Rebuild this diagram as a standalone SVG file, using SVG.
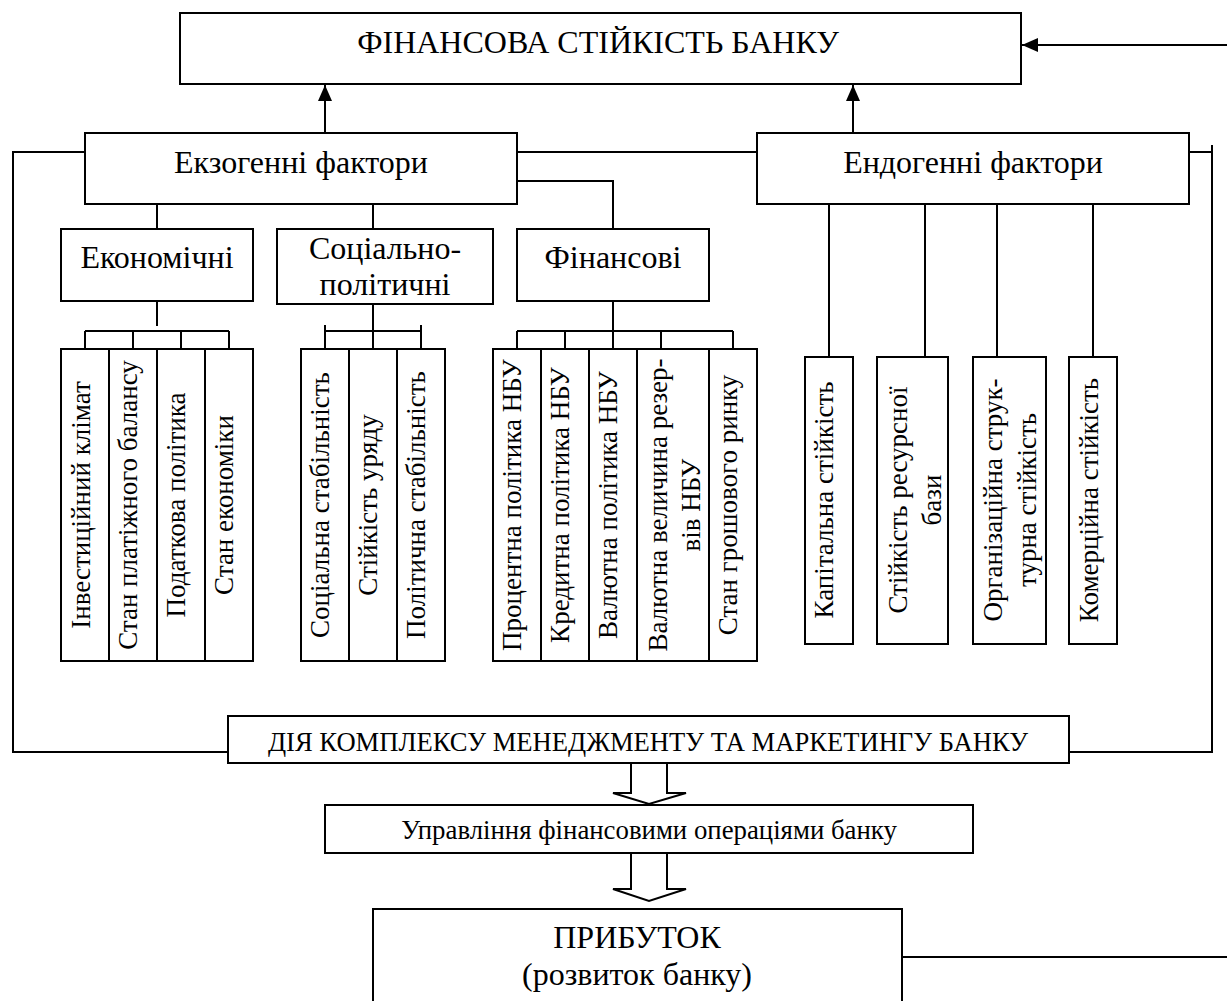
<svg xmlns="http://www.w3.org/2000/svg" width="1227" height="1001" viewBox="0 0 1227 1001">
<style>
.box{fill:#fff;stroke:#000;stroke-width:2}
.ln{fill:none;stroke:#000;stroke-width:2}
.hol{fill:#fff;stroke:#000;stroke-width:2;stroke-linejoin:miter}
text{font-family:"Liberation Serif","Times New Roman",serif;fill:#000;text-anchor:middle}
.h{font-size:32px}
.v{font-size:27px}
.m{font-size:26.6px}
.o{font-size:26.8px}
</style>
<defs>
<marker id="ah" viewBox="0 0 16 14" refX="16" refY="7" markerWidth="16" markerHeight="14" markerUnits="userSpaceOnUse" orient="auto">
<path d="M0,0 L16,7 L0,14 z" fill="#000"/>
</marker>
</defs>
<rect width="1227" height="1001" fill="#fff"/>
<g id="connectors">
<path class="ln" d="M325,133 V85" marker-end="url(#ah)"/>
<path class="ln" d="M853,133 V85" marker-end="url(#ah)"/>
<path class="ln" d="M1227,45 H1022" marker-end="url(#ah)"/>
<path class="ln" d="M85,152 H13 V752 H228"/>
<path class="ln" d="M517,152 H757"/>
<path class="ln" d="M517,181 H613 V229"/>
<path class="ln" d="M157,204 V229 M373,204 V229"/>
<path class="ln" d="M1189,152 H1212 M1212,145 V752 M1069,752 H1213"/>
<path class="ln" d="M157,301 V326 M85,331 H229 M85,331 V349 M133,331 V349 M181,331 V349 M229,331 V349"/>
<path class="ln" d="M373,304 V349 M325,331 H421 M325,325 V349 M421,325 V349"/>
<path class="ln" d="M613,301 V349 M517,331 H733 M517,331 V349 M565,331 V349 M661,331 V349 M733,331 V349"/>
<path class="ln" d="M829,204 V357 M925,204 V357 M997,204 V357 M1093,204 V357"/>
<path class="hol" d="M631,763 V793 H613 L649,804 L686,793 H667 V763"/>
<path class="hol" d="M631,853 V889 H613 L649,901 L686,889 H667 V853"/>
<path class="ln" d="M902,957 H1227"/>
</g>
<g id="n-title"><rect class="box" x="180" y="13" width="841" height="71"/><text class="h" x="598" y="53">ФІНАНСОВА СТІЙКІСТЬ БАНКУ</text></g>
<g id="n-exo"><rect class="box" x="85" y="133" width="432" height="71"/><text class="h" x="301" y="173">Екзогенні фактори</text></g>
<g id="n-endo"><rect class="box" x="757" y="133" width="432" height="71"/><text class="h" x="973" y="173">Ендогенні фактори</text></g>
<g id="n-econ"><rect class="box" x="61" y="229" width="192" height="72"/><text class="h" x="157" y="268">Економічні</text></g>
<g id="n-soc"><rect class="box" x="277" y="229" width="216" height="75"/><text class="h" x="385" y="259">Соціально-</text><text class="h" x="385" y="295">політичні</text></g>
<g id="n-fin"><rect class="box" x="517" y="229" width="192" height="72"/><text class="h" x="613" y="268">Фінансові</text></g>
<g id="n-e1"><rect class="box" x="61" y="349" width="48" height="312"/><text class="v" transform="translate(90,505) rotate(-90)">Інвестиційний клімат</text></g>
<g id="n-e2"><rect class="box" x="109" y="349" width="48" height="312"/><text class="v" transform="translate(137,505) rotate(-90)">Стан платіжного балансу</text></g>
<g id="n-e3"><rect class="box" x="157" y="349" width="48" height="312"/><text class="v" transform="translate(185,505) rotate(-90)">Податкова політика</text></g>
<g id="n-e4"><rect class="box" x="205" y="349" width="48" height="312"/><text class="v" transform="translate(233,505) rotate(-90)">Стан економіки</text></g>
<g id="n-s1"><rect class="box" x="301" y="349" width="48" height="312"/><text class="v" transform="translate(329,505) rotate(-90)">Соціальна стабільність</text></g>
<g id="n-s2"><rect class="box" x="349" y="349" width="48" height="312"/><text class="v" transform="translate(377,505) rotate(-90)">Стійкість уряду</text></g>
<g id="n-s3"><rect class="box" x="397" y="349" width="48" height="312"/><text class="v" transform="translate(425,505) rotate(-90)">Політична стабільність</text></g>
<g id="n-f1"><rect class="box" x="493" y="349" width="48" height="312"/><text class="v" transform="translate(521,505) rotate(-90)">Процентна політика НБУ</text></g>
<g id="n-f2"><rect class="box" x="541" y="349" width="48" height="312"/><text class="v" transform="translate(569,505) rotate(-90)">Кредитна політика НБУ</text></g>
<g id="n-f3"><rect class="box" x="589" y="349" width="48" height="312"/><text class="v" transform="translate(617,505) rotate(-90)">Валютна політика НБУ</text></g>
<g id="n-f4"><rect class="box" x="637" y="349" width="72" height="312"/><text class="v" transform="translate(667,505) rotate(-90)"><tspan x="0" y="0">Валютна величина резер-</tspan><tspan x="0" y="33">вів НБУ</tspan></text></g>
<g id="n-f5"><rect class="box" x="709" y="349" width="48" height="312"/><text class="v" transform="translate(737,505) rotate(-90)">Стан грошового ринку</text></g>
<g id="n-d1"><rect class="box" x="805" y="357" width="48" height="287"/><text class="v" transform="translate(833,500) rotate(-90)">Капітальна стійкість</text></g>
<g id="n-d2"><rect class="box" x="877" y="357" width="71" height="287"/><text class="v" transform="translate(907,500) rotate(-90)"><tspan x="0" y="0">Стійкість ресурсної</tspan><tspan x="0" y="34">бази</tspan></text></g>
<g id="n-d3"><rect class="box" x="973" y="357" width="73" height="287"/><text class="v" transform="translate(1002,500) rotate(-90)"><tspan x="0" y="0">Організаційна струк-</tspan><tspan x="0" y="34">турна стійкість</tspan></text></g>
<g id="n-d4"><rect class="box" x="1069" y="357" width="48" height="287"/><text class="v" transform="translate(1098,500) rotate(-90)">Комерційна стійкість</text></g>
<g id="n-mgmt"><rect class="box" x="228" y="716" width="841" height="47"/><text class="m" x="648" y="751">ДІЯ КОМПЛЕКСУ МЕНЕДЖМЕНТУ ТА МАРКЕТИНГУ БАНКУ</text></g>
<g id="n-ops"><rect class="box" x="325" y="805" width="648" height="48"/><text class="o" x="649" y="839">Управління фінансовими операціями банку</text></g>
<g id="n-profit"><rect class="box" x="373" y="909" width="529" height="100"/><text class="h" x="637" y="948">ПРИБУТОК</text><text class="h" x="637" y="985">(розвиток банку)</text></g>
</svg>
